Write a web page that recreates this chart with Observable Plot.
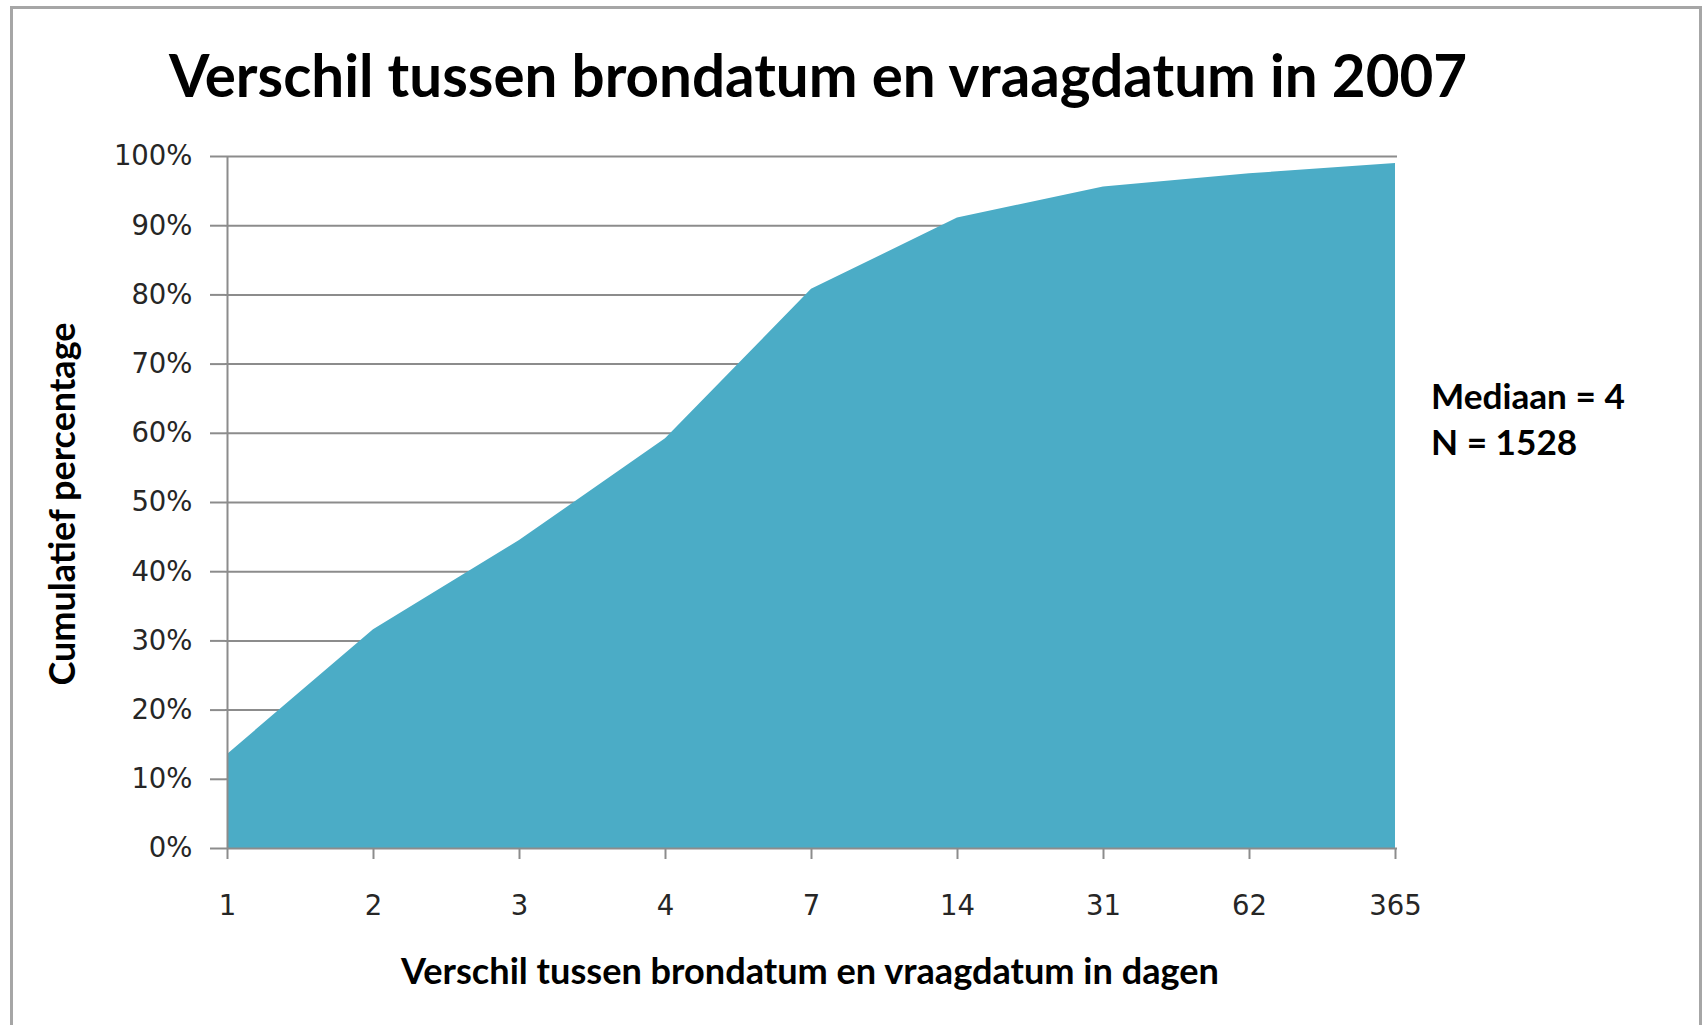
<!DOCTYPE html>
<html>
<head>
<meta charset="utf-8">
<script src="https://cdn.jsdelivr.net/npm/d3@7"></script>
<script src="https://cdn.jsdelivr.net/npm/@observablehq/plot@0.6"></script>
<style>
  html, body { margin: 0; padding: 0; background: #fff; }
  #wrap { position: relative; width: 1703px; height: 1025px; overflow: hidden; background: #fff; }
  #frame { position: absolute; left: 10px; top: 6px; width: 1692px; height: 1100px; border: 3px solid #a6a6a6; box-sizing: border-box; }
  #chart { position: absolute; left: 0; top: 0; }
  .t { position: absolute; white-space: nowrap; font-family: Lato, "Open Sans", sans-serif; font-weight: 700; color: #000; line-height: 1; }
</style>
</head>
<body>
<div id="wrap">
  <div id="frame"></div>
  <div id="chart"></div>
  <div id="title" class="t">Verschil tussen brondatum en vraagdatum in 2007</div>
  <div id="ylab" class="t">Cumulatief percentage</div>
  <div id="xlab" class="t">Verschil tussen brondatum en vraagdatum in dagen</div>
  <div id="note" class="t"><div id="note1">Mediaan = 4</div><div id="note2">N = 1528</div></div>
</div>
<script>
// ---- data ----
const dagen = ["1", "2", "3", "4", "7", "14", "31", "62", "365"];
const cumulatiefPct = [13.6, 31.6, 44.5, 59.2, 80.8, 91.1, 95.6, 97.5, 99.0];
const yTicks = [0, 10, 20, 30, 40, 50, 60, 70, 80, 90, 100];

const data = dagen.map((d, i) => ({dagen: d, pct: cumulatiefPct[i]}));

const gridColor = "#8c8c8c";
const chart = Plot.plot({
  width: 1703,
  height: 1025,
  marginTop: 156,
  marginBottom: 177,
  marginLeft: 225,
  marginRight: 306,
  style: {fontFamily: "'DejaVu Sans', sans-serif", fontSize: "27.5px", color: "#262626", background: "transparent", overflow: "visible"},
  x: {type: "point", domain: dagen, padding: 0, label: null},
  y: {domain: [0, 100], label: null},
  marks: [
    Plot.ruleY(yTicks.filter(d => d > 0 && d < 100), {stroke: gridColor, strokeWidth: 2, insetRight: 4}),
    Plot.ruleY([100], {stroke: gridColor, strokeWidth: 2}),
    Plot.areaY(data, {x: "dagen", y: "pct", fill: "#4BACC6", curve: "linear"}),
    Plot.ruleY([0], {stroke: gridColor, strokeWidth: 2}),
    Plot.ruleX([dagen[0]], {stroke: gridColor, strokeWidth: 2}),
    Plot.axisY({ticks: yTicks, tickSize: 15, tickPadding: 18, tickFormat: d => d + "%", stroke: gridColor, strokeWidth: 2, fill: "#262626", label: null}),
    Plot.axisX({tickSize: 11, tickPadding: 36, stroke: gridColor, strokeWidth: 2, fill: "#262626", label: null})
  ]
});
document.getElementById("chart").appendChild(chart);

// ---- text layout (fit to reference widths) ----
const ctx = document.createElement("canvas").getContext("2d");
function fitSize(text, target) {
  ctx.font = "700 100px Lato, 'Open Sans', sans-serif";
  return 100 * target / ctx.measureText(text).width;
}
const ASC = 0.887; // baseline offset for line-height 1 (Lato)

function place(id, text, width, opts) {
  const el = document.getElementById(id);
  const s = fitSize(text, width);
  el.style.fontSize = s + "px";
  el.style.left = opts.centerX + "px";
  el.style.top = (opts.baseline - ASC * s) + "px";
  el.style.transform = "translateX(-50%)";
  return s;
}
place("title", "Verschil tussen brondatum en vraagdatum in 2007", 1300, {centerX: 818, baseline: 97});
place("xlab", "Verschil tussen brondatum en vraagdatum in dagen", 819, {centerX: 810, baseline: 984});

// rotated y label
{
  const el = document.getElementById("ylab");
  const s = fitSize("Cumulatief percentage", 364);
  el.style.fontSize = s + "px";
  const baselineX = 75;
  el.style.left = (baselineX - 0.387 * s) + "px";
  el.style.top = "504px";
  el.style.transform = "translate(-50%, -50%) rotate(-90deg)";
}

// note
{
  const s = fitSize("Mediaan = 4", 194);
  const note = document.getElementById("note");
  note.style.fontSize = s + "px";
  note.style.left = "1431px";
  const lh = 46;
  note.style.lineHeight = lh + "px";
  const firstBaseline = 409;
  note.style.top = (firstBaseline - ((lh - 1.2 * s) / 2 + 0.987 * s)) + "px";
}
</script>
</body>
</html>
